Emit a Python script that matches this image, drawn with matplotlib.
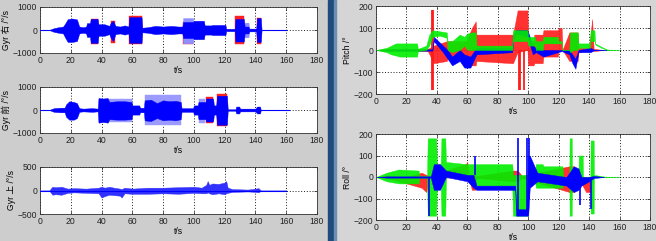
import matplotlib
matplotlib.use("Agg")
import matplotlib.pyplot as plt
from matplotlib.patches import Rectangle
import numpy as np

plt.rcParams['font.family'] = ['Liberation Sans', 'Noto Sans CJK SC', 'DejaVu Sans']

# ---------------- data (envelopes) ----------------
x_ticks = [0, 20, 40, 60, 80, 100, 120, 140, 160, 180]

# Gyr 右 : blue core, light-blue outer, red extremes
b1_t  = [0, 6, 9, 12, 15, 16.5, 18, 21, 24, 25.5, 28, 30, 30.5, 32.5, 33, 37.5, 38, 42, 45, 46, 47.5, 49, 52, 55, 57.5, 58, 66, 66.5, 70, 75, 80, 85, 90, 92.5, 93, 99.5, 100, 106.5, 107, 111.5, 112, 120.5, 121, 126.5, 127, 132.5, 133, 135.5, 136, 140.5, 141, 143.5, 144, 160]
b1_hi = [0, 0, 80, 120, 150, 300, 470, 500, 460, 150, 120, 150, 300, 300, 480, 480, 250, 250, 180, 320, 400, 180, 150, 200, 150, 560, 560, 100, 120, 180, 150, 180, 150, 150, 350, 350, 400, 400, 200, 200, 220, 220, 50, 50, 480, 480, 150, 150, 60, 60, 520, 520, 0, 0]
b1_lo = [0, 0, -80, -120, -150, -350, -520, -520, -480, -150, -120, -150, -300, -300, -560, -560, -250, -250, -180, -350, -480, -180, -150, -200, -150, -560, -560, -100, -120, -180, -150, -180, -150, -150, -350, -350, -400, -400, -200, -200, -220, -220, -50, -50, -500, -500, -150, -150, -60, -60, -520, -520, 0, 0]
l1_t  = [92.5, 93, 99.5, 100, 132.5, 133, 135.5, 136]
l1_hi = [0, 520, 520, 0, 0, 320, 320, 0]
l1_lo = [0, -580, -580, 0, 0, -320, -320, 0]
r1_t  = [33, 33, 37.5, 37.5, 46, 46, 49, 49, 58, 58, 66, 66, 93, 93, 99.5, 99.5, 127, 127, 132.5, 132.5, 141, 141, 143.5, 143.5]
r1_hi = [0, 480, 480, 0, 0, 400, 400, 0, 0, 620, 620, 0, 0, 350, 350, 0, 0, 620, 620, 0, 0, 520, 520, 0]
r1_lo = [0, -620, -620, 0, 0, -560, -560, 0, 0, -620, -620, 0, 0, -620, -620, 0, 0, -620, -620, 0, 0, -600, -600, 0]

# Gyr 前
b2_t  = [0, 6, 9, 13, 16, 17, 19, 22, 24, 25.5, 28, 34, 37.5, 38, 41, 44, 45, 50, 55, 59.5, 60, 64.5, 65, 67.5, 68, 72, 76, 80, 84, 88, 91.5, 92, 99.5, 100, 102.5, 103, 107.5, 108, 112.5, 113, 114.5, 115, 121.5, 122, 127, 127.5, 129.5, 130, 140, 141, 143, 143.5, 162]
b2_hi = [0, 0, 80, 100, 100, 250, 380, 350, 300, 80, 60, 80, 60, 520, 500, 520, 350, 380, 380, 350, 200, 200, 100, 100, 420, 450, 300, 420, 380, 400, 350, 80, 80, 200, 200, 350, 350, 500, 500, 200, 200, 620, 620, 30, 30, 150, 150, 60, 60, 150, 150, 0, 0]
b2_lo = [0, 0, -80, -100, -100, -300, -420, -420, -350, -80, -60, -80, -60, -550, -520, -550, -400, -420, -420, -400, -200, -200, -100, -100, -450, -480, -350, -450, -420, -450, -400, -80, -80, -200, -200, -400, -400, -500, -500, -200, -200, -640, -640, -30, -30, -150, -150, -60, -60, -150, -150, 0, 0]
l2_t  = [45, 45, 59.5, 59.5, 68, 68, 91.5, 91.5, 103, 103, 107.5, 107.5]
l2_hi = [0, 500, 500, 0, 0, 650, 650, 0, 0, 500, 500, 0]
l2_lo = [0, -520, -520, 0, 0, -650, -650, 0, 0, -560, -560, 0]
r2_t  = [108, 108, 112.5, 112.5, 115, 115, 121.5, 121.5]
r2_hi = [0, 560, 560, 0, 0, 700, 700, 0]
r2_lo = [0, -560, -560, 0, 0, -700, -700, 0]

# Gyr 上
b3_t  = [0, 6, 8, 10, 14, 18, 22, 30, 38, 40, 42, 45, 48, 52, 53, 55, 60, 70, 80, 90, 100, 105, 108, 109, 110, 112, 116, 120, 121, 122, 125, 135, 140, 142, 143.5, 160]
b3_hi = [0, 0, 80, 70, 80, 40, 50, 40, 60, 80, 60, 80, 60, 40, 30, 60, 40, 60, 60, 70, 80, 60, 120, 200, 120, 150, 140, 170, 200, 60, 30, 20, 40, 50, 0, 0]
b3_lo = [0, 0, -90, -80, -90, -50, -40, -50, -60, -150, -120, -90, -100, -110, -150, -60, -70, -70, -60, -70, -50, -60, -60, -40, -60, -80, -60, -80, -60, -50, -30, -20, -30, -40, 0, 0]

# Pitch
pg_t  = [0, 7, 10, 13, 15.5, 16, 27, 27.5, 33, 35, 37, 42, 46.5, 47, 50, 55, 58, 60, 63, 65.5, 66, 89.5, 90, 99.5, 100, 104.5, 105, 109.5, 110, 119.5, 120, 122, 122.5, 127, 127.5, 130, 132.5, 133, 140.5, 141, 143.5, 144, 148, 152, 160]
pg_hi = [0, 10, 20, 30, 30, 30, 30, 5, 20, 70, 90, 85, 80, 40, 40, 70, 60, 75, 80, 80, 20, 20, 90, 90, 60, 60, 40, 40, 60, 60, 40, 40, 0, 0, 80, 80, 80, 30, 30, 90, 90, 30, 15, 2, 0]
pg_lo = [0, -10, -20, -25, -30, -30, -30, -5, 0, 20, 60, 65, 55, 0, -10, 0, 20, 0, 0, 0, 0, 0, 40, 40, 20, 20, 0, 0, 30, 30, 30, 30, 0, 0, -10, 0, 0, 10, 10, 40, 40, 25, 10, 0, 0]

pr_t  = [0, 7, 34, 38, 46.5, 47, 55, 59.5, 60, 63, 65.5, 66, 89.5, 90, 93, 99.5, 100, 103.5, 104, 109.5, 110, 119.5, 120, 122, 122.5, 127, 132.5, 133, 140, 142, 143, 150]
pr_hi = [0, 5, 5, 20, 40, 40, 40, 40, 50, 100, 130, 70, 70, 70, 180, 180, 40, 40, 70, 70, 90, 90, 100, 100, 0, 80, 80, 10, 10, 140, 5, 0]
pr_lo = [0, -5, -5, -60, -50, -40, -40, -40, -70, -70, -70, -50, -60, -60, -10, 0, -70, -70, -60, -60, -30, -30, 0, 0, 0, -50, -50, -10, 0, 0, -5, 0]
pr_sx   = [37, 37.4, 93.8, 94.6, 97.2]
pr_stop = [180, 180, 0, 0, 0]
pr_sbot = [-180, -180, -180, -180, -180]

pb_t  = [0, 7, 37, 38, 44, 47, 50, 55, 58, 62, 66, 89.5, 90, 92, 99.5, 103, 105, 110, 122, 127, 129, 131, 133, 141, 143, 153]
pb_hi = [0, 3, 3, 60, 20, 0, -30, 0, -20, -30, 10, 10, 60, 90, 90, 20, 10, 0, 0, 0, -20, -40, 0, 10, 2, 0]
pb_lo = [0, -3, -3, 40, -10, -40, -70, -50, -80, -80, -20, -10, 40, 75, 60, -20, -10, -30, -5, -20, -60, -85, -10, -10, -2, 0]

# Roll
rg_t  = [0, 7, 15, 28, 28.5, 33.5, 34, 39.5, 40, 42.5, 43, 45.5, 46, 59.5, 60, 63.5, 64, 89.5, 90, 99.5, 100, 104.5, 105, 109.5, 110, 122.5, 123, 127, 127.2, 128.6, 128.8, 133, 133.2, 135.8, 136, 140.8, 141, 143, 143.2, 150, 160]
rg_hi = [0, 20, 35, 30, 5, 5, 180, 180, 60, 60, 180, 180, 70, 60, 60, 60, 60, 60, 10, 10, 20, 20, 60, 60, 50, 50, 0, 0, 180, 180, 0, 0, 100, 100, 0, 0, 170, 170, 10, 2, 0]
rg_lo = [0, -20, -30, -30, -5, -5, -180, -180, -40, -40, -180, -180, 0, 0, 0, 0, -40, -40, -180, -180, -20, -20, -50, -50, -50, -50, 0, 0, -180, -180, 0, 0, 0, 0, 0, 0, -170, -170, 0, 0, 0]

rr_t  = [0, 7, 20, 30, 33, 35, 59, 60, 61, 63, 65, 66, 90, 93, 96, 127, 130, 133, 138, 141, 142, 145]
rr_hi = [0, 5, 0, 20, 10, 5, 60, 70, 5, 10, 10, 5, 30, 30, 5, 50, 50, 5, 0, 0, 0, 0]
rr_lo = [0, -5, -30, -50, -70, -5, 0, 0, -5, -60, -60, -5, -20, -20, -5, -70, -70, -5, -70, -70, 0, 0]

rb_t  = [0, 7, 36, 38, 42, 46, 60, 64, 66, 90, 91.5, 92, 99, 100, 101, 106, 125, 130, 133, 135, 140, 143, 150]
rb_hi = [0, 3, 3, 60, 60, 30, 10, 10, -40, -40, -40, -150, -150, 100, 100, 20, 0, 50, 40, 0, 0, 5, 0]
rb_lo = [0, -3, -3, -60, -60, 0, -20, -50, -60, -60, -60, -180, -180, -180, -50, -20, -40, -70, -60, -40, -20, -5, 0]
rb_sx   = [34.5, 65, 93, 99.5, 100.5, 134, 141]
rb_stop = [0, 100, 180, 180, 180, -10, 0]
rb_sbot = [-180, 10, -180, -180, -100, -130, -150]

# ---------------- figure ----------------
W, H = 656, 241
fig = plt.figure(figsize=(W / 100, H / 100), dpi=100)
fig.patches.append(Rectangle((0, 0), 328 / W, 1, transform=fig.transFigure, color='#cdcdcd', zorder=-10))
fig.patches.append(Rectangle((328 / W, 0), 8 / W, 1, transform=fig.transFigure, color='#1f4c7c', zorder=-10))
fig.patches.append(Rectangle((334 / W, 0), 2 / W, 1, transform=fig.transFigure, color='#6f8fb0', zorder=-9))
fig.patches.append(Rectangle((336 / W, 0), 320 / W, 1, transform=fig.transFigure, color='#d5d5d5', zorder=-10))

FS = 6.2


def make_ax(px_left, px_top, px_right, px_bottom, ylim, yticks, ylabel):
    ax = fig.add_axes([px_left / W, 1 - px_bottom / H, (px_right - px_left) / W, (px_bottom - px_top) / H])
    ax.set_facecolor('white')
    ax.set_xlim(0, 180)
    ax.set_ylim(*ylim)
    ax.set_xticks(x_ticks)
    ax.set_yticks(yticks)
    ax.tick_params(direction='in', length=2.5, width=0.5, labelsize=FS, pad=2,
                   top=True, right=True, colors='#222222')
    ax.grid(True, linestyle=(0, (1.2, 2.2)), color='black', linewidth=0.6)
    for s in ax.spines.values():
        s.set_linewidth(0.6)
        s.set_color('#333333')
    ax.set_xlabel('t/s', fontsize=FS, labelpad=1)
    ax.set_ylabel(ylabel, fontsize=FS, labelpad=1)
    return ax


def band(ax, t, lo, hi, color, z, alpha=1.0):
    ax.fill_between(np.asarray(t, float), lo, hi, color=color, lw=0.3, edgecolor=color, zorder=z, alpha=alpha)


def zero_line(ax, t, color, z):
    t = np.asarray(t, float)
    ax.plot(t[[0, -1]], [0, 0], color=color, lw=0.8, zorder=z)


# left column
ax1 = make_ax(40, 7, 317, 53, (-1000, 1000), [-1000, 0, 1000], 'Gyr 右 /°/s')
band(ax1, r1_t, r1_lo, r1_hi, '#ff2020', 2)
band(ax1, l1_t, l1_lo, l1_hi, '#8f8fff', 3)
band(ax1, b1_t, b1_lo, b1_hi, '#0000ff', 4)
zero_line(ax1, b1_t, '#0000ff', 5)

ax2 = make_ax(40, 87, 317, 133, (-1000, 1000), [-1000, 0, 1000], 'Gyr 前 /°/s')
band(ax2, r2_t, r2_lo, r2_hi, '#ff2020', 2)
band(ax2, l2_t, l2_lo, l2_hi, '#9a9aff', 3)
band(ax2, b2_t, b2_lo, b2_hi, '#0000ff', 4)
zero_line(ax2, b2_t, '#0000ff', 5)

ax3 = make_ax(40, 167, 317, 214, (-500, 500), [-500, 0, 500], 'Gyr 上 /°/s')
band(ax3, b3_t, b3_lo, b3_hi, '#3030ff', 4)
zero_line(ax3, b3_t, '#0000ff', 5)

# right column
ax4 = make_ax(376, 6, 650, 94, (-200, 200), [-200, -100, 0, 100, 200], 'Pitch /°')
band(ax4, pr_t, pr_lo, pr_hi, '#ff1a1a', 2, 0.9)
ax4.vlines(pr_sx, pr_sbot, pr_stop, color='#ff1a1a', lw=1.3, zorder=2)
band(ax4, pb_t, pb_lo, pb_hi, '#0000ff', 3)
band(ax4, pg_t, pg_lo, pg_hi, '#00ee00', 4, 0.9)
zero_line(ax4, pg_t, '#99ff99', 1.5)

ax5 = make_ax(376, 134, 650, 220, (-200, 200), [-200, -100, 0, 100, 200], 'Roll /°')
band(ax5, rr_t, rr_lo, rr_hi, '#ff1a1a', 2, 0.9)
band(ax5, rg_t, rg_lo, rg_hi, '#00ee00', 3, 0.9)
band(ax5, rb_t, rb_lo, rb_hi, '#0000ff', 4)
ax5.vlines(rb_sx, rb_sbot, rb_stop, color='#0000ff', lw=1.2, zorder=4)
zero_line(ax5, rg_t, '#99ff99', 1.5)

fig.savefig('out.png', dpi=100)
